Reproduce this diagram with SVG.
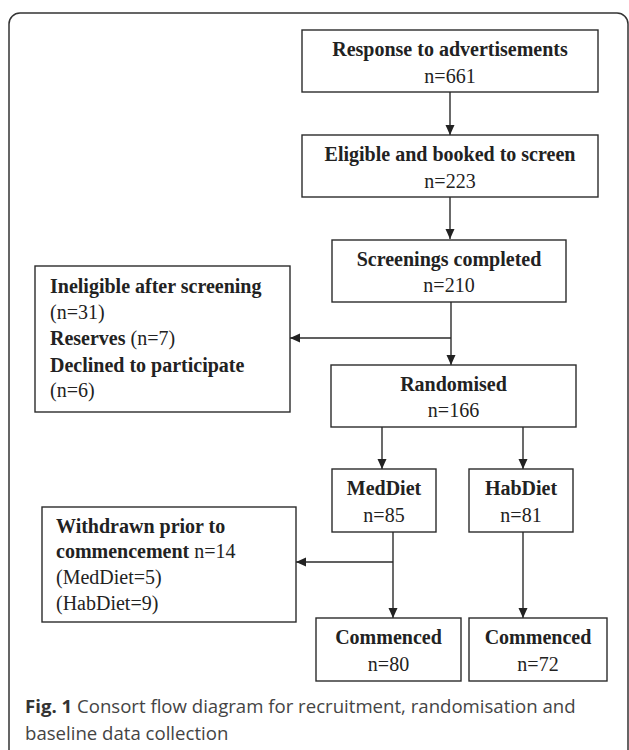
<svg xmlns="http://www.w3.org/2000/svg" width="629" height="750" viewBox="0 0 629 750">
<style>
.box{fill:#fff;stroke:#2b2b2b;stroke-width:1.4}
.t{font-family:"Liberation Serif","Times New Roman",serif;font-size:20px;fill:#222}
.b{font-weight:bold}
.c{text-anchor:middle}
.ln{fill:none;stroke:#2b2b2b;stroke-width:1.4}
.cap{font-family:"Open Sans","Liberation Sans",sans-serif;font-size:18.6px;fill:#444}
</style>
<defs>
<marker id="ah" viewBox="0 0 10 10" refX="10" refY="5" markerWidth="10" markerHeight="10" markerUnits="userSpaceOnUse" orient="auto">
<path d="M0,0.5 L10,5 L0,9.5 Z" fill="#222"/>
</marker>
</defs>
<rect x="9" y="13" width="619" height="750" rx="11" fill="#fff" stroke="#333" stroke-width="1.5"/>
<g id="connectors">
<line class="ln" x1="450" y1="92" x2="450" y2="135" marker-end="url(#ah)"/>
<line class="ln" x1="450" y1="197" x2="450" y2="239" marker-end="url(#ah)"/>
<line class="ln" x1="451" y1="302" x2="451" y2="365" marker-end="url(#ah)"/>
<line class="ln" x1="451" y1="338" x2="290" y2="338" marker-end="url(#ah)"/>
<line class="ln" x1="382" y1="427" x2="382" y2="469" marker-end="url(#ah)"/>
<line class="ln" x1="523" y1="427" x2="523" y2="469" marker-end="url(#ah)"/>
<line class="ln" x1="393" y1="532" x2="393" y2="618" marker-end="url(#ah)"/>
<line class="ln" x1="393" y1="562" x2="296" y2="562" marker-end="url(#ah)"/>
<line class="ln" x1="523" y1="532" x2="523" y2="618" marker-end="url(#ah)"/>
</g>
<g id="response">
<rect class="box" x="302" y="30" width="296" height="62"/>
<text class="t b c" x="450" y="56">Response to advertisements</text>
<text class="t c" x="450" y="83">n=661</text>
</g>
<g id="eligible">
<rect class="box" x="302" y="135" width="296" height="62"/>
<text class="t b c" x="450" y="161">Eligible and booked to screen</text>
<text class="t c" x="450" y="188">n=223</text>
</g>
<g id="screenings">
<rect class="box" x="332" y="240" width="234" height="62"/>
<text class="t b c" x="449" y="266">Screenings completed</text>
<text class="t c" x="449" y="292">n=210</text>
</g>
<g id="excluded">
<rect class="box" x="35" y="266" width="255" height="146"/>
<text class="t" x="50" y="293"><tspan class="b">Ineligible after screening</tspan></text>
<text class="t" x="50" y="319">(n=31)</text>
<text class="t" x="50" y="345"><tspan class="b">Reserves</tspan> (n=7)</text>
<text class="t" x="50" y="372"><tspan class="b">Declined to participate</tspan></text>
<text class="t" x="50" y="397">(n=6)</text>
</g>
<g id="randomised">
<rect class="box" x="331" y="365" width="245" height="62"/>
<text class="t b c" x="453.5" y="391">Randomised</text>
<text class="t c" x="453.5" y="417">n=166</text>
</g>
<g id="meddiet">
<rect class="box" x="332" y="469" width="104" height="63"/>
<text class="t b c" x="384" y="495">MedDiet</text>
<text class="t c" x="384" y="522">n=85</text>
</g>
<g id="habdiet">
<rect class="box" x="469" y="469" width="104" height="63"/>
<text class="t b c" x="521" y="495">HabDiet</text>
<text class="t c" x="521" y="522">n=81</text>
</g>
<g id="withdrawn">
<rect class="box" x="42" y="507" width="254" height="115"/>
<text class="t" x="56" y="533"><tspan class="b">Withdrawn prior to</tspan></text>
<text class="t" x="56" y="558"><tspan class="b">commencement</tspan> n=14</text>
<text class="t" x="56" y="584">(MedDiet=5)</text>
<text class="t" x="56" y="610">(HabDiet=9)</text>
</g>
<g id="commenced-med">
<rect class="box" x="316" y="618" width="145" height="63"/>
<text class="t b c" x="388.5" y="644">Commenced</text>
<text class="t c" x="388.5" y="671">n=80</text>
</g>
<g id="commenced-hab">
<rect class="box" x="469" y="618" width="138" height="63"/>
<text class="t b c" x="538" y="644">Commenced</text>
<text class="t c" x="538" y="671">n=72</text>
</g>
<g id="caption">
<text class="cap" x="25" y="713"><tspan font-weight="bold" fill="#333">Fig. 1</tspan> Consort flow diagram for recruitment, randomisation and</text>
<text class="cap" x="25" y="740">baseline data collection</text>
</g>
</svg>
